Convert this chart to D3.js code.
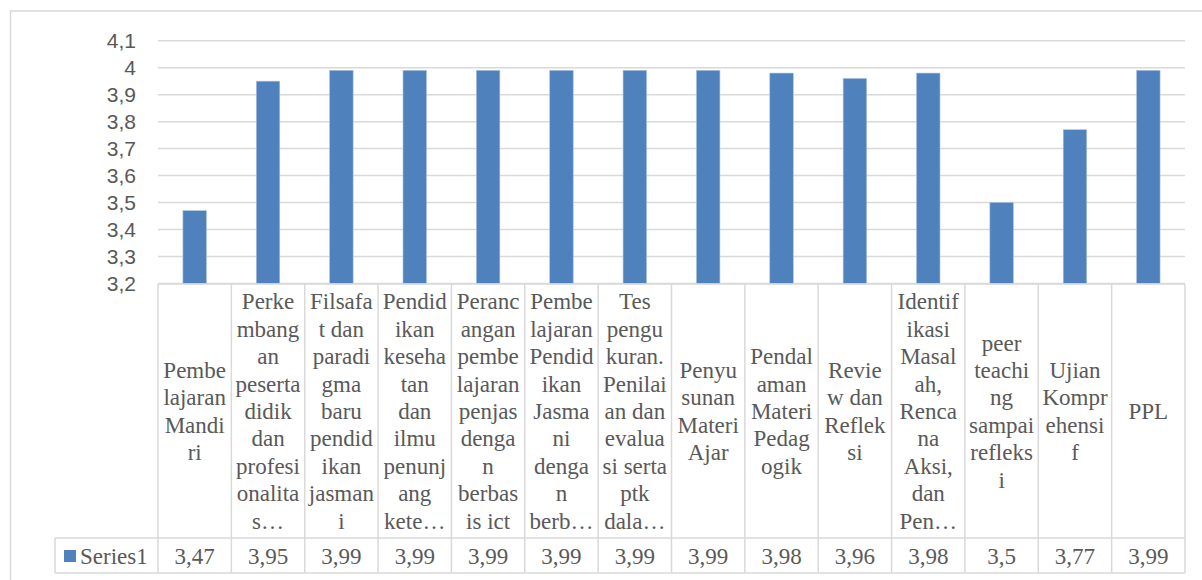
<!DOCTYPE html>
<html>
<head>
<meta charset="utf-8">
<script src="https://cdn.jsdelivr.net/npm/d3@7/dist/d3.min.js"></script>
<style>
  html, body { margin: 0; padding: 0; background: #fff; }
  svg { display: block; }
</style>
</head>
<body>
<svg id="chart" width="1202" height="580"></svg>
<script>
// ---- Data ----
const categories = [
  "Pembelajaran Mandiri",
  "Perkembangan peserta didik dan profesionalitas…",
  "Filsafat dan paradigma baru pendidikan jasmani",
  "Pendidikan kesehatan dan ilmu penunjang kete…",
  "Perancangan pembelajaran penjas dengan berbasis ict",
  "Pembelajaran Pendidikan Jasmani dengan berb…",
  "Tes pengukuran. Penilaian dan evaluasi serta ptk dala…",
  "Penyusunan Materi Ajar",
  "Pendalaman Materi Pedagogik",
  "Review dan Refleksi",
  "Identifikasi Masalah, Rencana Aksi, dan Pen…",
  "peer teaching sampai refleksi",
  "Ujian Komprehensif",
  "PPL"
];
// Wrapped lines as shown in the data table
const categoryLines = [
  ["Pembe","lajaran","Mandi","ri"],
  ["Perke","mbang","an","peserta","didik","dan","profesi","onalita","s…"],
  ["Filsafa","t dan","paradi","gma","baru","pendid","ikan","jasman","i"],
  ["Pendid","ikan","keseha","tan","dan","ilmu","penunj","ang","kete…"],
  ["Peranc","angan","pembe","lajaran","penjas","denga","n","berbas","is ict"],
  ["Pembe","lajaran","Pendid","ikan","Jasma","ni","denga","n","berb…"],
  ["Tes","pengu","kuran.","Penilai","an dan","evalua","si serta","ptk","dala…"],
  ["Penyu","sunan","Materi","Ajar"],
  ["Pendal","aman","Materi","Pedag","ogik"],
  ["Revie","w dan","Reflek","si"],
  ["Identif","ikasi","Masal","ah,","Renca","na","Aksi,","dan","Pen…"],
  ["peer","teachi","ng","sampai","refleks","i"],
  ["Ujian","Kompr","ehensi","f"],
  ["PPL"]
];
const seriesName = "Series1";
const values = [3.47, 3.95, 3.99, 3.99, 3.99, 3.99, 3.99, 3.99, 3.98, 3.96, 3.98, 3.5, 3.77, 3.99];
const yTicks = [3.2, 3.3, 3.4, 3.5, 3.6, 3.7, 3.8, 3.9, 4.0, 4.1];

// ---- Layout ----
const plotLeft = 158, plotRight = 1185;
const plotTop = 40.7, plotBottom = 283.5;
const tableTop = 284, catRowBottom = 538, valRowBottom = 573;
const legendLeft = 55;
const gridColor = "#d9d9d9";
const textColor = "#595959";
const barColor = "#4F81BD";
const fmt = v => String(+v.toFixed(2)).replace(".", ",");

const svg = d3.select("#chart");

// Outer chart border
svg.append("rect")
  .attr("x", 10.5).attr("y", 11)
  .attr("width", 1202).attr("height", 600)
  .attr("fill", "#fff").attr("stroke", gridColor).attr("stroke-width", 1.5);

const x = d3.scaleBand().domain(categories).range([plotLeft, plotRight])
  .paddingInner(0.68).paddingOuter(0.34);
const xCol = d3.scaleBand().domain(categories).range([plotLeft, plotRight]).padding(0);
const y = d3.scaleLinear().domain([3.2, 4.1]).range([plotBottom, plotTop]);

// Gridlines
svg.append("g").selectAll("line").data(yTicks).join("line")
  .attr("x1", plotLeft).attr("x2", plotRight)
  .attr("y1", d => y(d)).attr("y2", d => y(d))
  .attr("stroke", gridColor).attr("stroke-width", 1.5);

// Y axis labels
const yAxis = d3.axisLeft(y).tickValues(yTicks).tickFormat(fmt).tickSize(0).tickPadding(0);
const yg = svg.append("g").attr("transform", `translate(136,0)`).call(yAxis);
yg.select(".domain").remove();
yg.selectAll("text")
  .attr("fill", textColor)
  .style("font-family", "'Liberation Sans', Arial, sans-serif")
  .style("font-size", "21px");

// Bars
svg.append("g").selectAll("rect").data(values).join("rect")
  .attr("x", (d, i) => x(categories[i]))
  .attr("width", x.bandwidth())
  .attr("y", d => y(d))
  .attr("height", d => y(3.2) - y(d))
  .attr("fill", barColor)
  .attr("stroke", "#a9c0de").attr("stroke-width", 0.6);

// ---- Data table ----
const tg = svg.append("g");
const lineColor = gridColor;
// horizontal lines
tg.append("line").attr("x1", plotLeft).attr("x2", plotRight).attr("y1", tableTop).attr("y2", tableTop)
  .attr("stroke", lineColor).attr("stroke-width", 1.5);
tg.append("line").attr("x1", legendLeft).attr("x2", plotRight).attr("y1", catRowBottom).attr("y2", catRowBottom)
  .attr("stroke", lineColor).attr("stroke-width", 1.5);
tg.append("line").attr("x1", legendLeft).attr("x2", plotRight).attr("y1", valRowBottom).attr("y2", valRowBottom)
  .attr("stroke", lineColor).attr("stroke-width", 1.5);
// vertical lines
const colEdges = categories.map(c => xCol(c)).concat([plotRight]);
tg.selectAll("line.v").data(colEdges).join("line").attr("class", "v")
  .attr("x1", d => d).attr("x2", d => d)
  .attr("y1", tableTop).attr("y2", valRowBottom)
  .attr("stroke", lineColor).attr("stroke-width", 1.5);
tg.append("line").attr("x1", legendLeft).attr("x2", legendLeft)
  .attr("y1", catRowBottom).attr("y2", valRowBottom)
  .attr("stroke", lineColor).attr("stroke-width", 1.5);

const serif = "'Liberation Serif', 'Times New Roman', serif";
const lh = 27.4;
const catMid = (tableTop + catRowBottom) / 2;

// category labels
categories.forEach((c, i) => {
  const lines = categoryLines[i];
  const cx = xCol(c) + xCol.bandwidth() / 2;
  const t = tg.append("text")
    .attr("x", cx)
    .attr("text-anchor", "middle")
    .attr("fill", textColor)
    .style("font-family", serif)
    .style("font-size", "23px");
  lines.forEach((ln, j) => {
    t.append("tspan")
      .attr("x", cx)
      .attr("y", catMid + (j - (lines.length - 1) / 2) * lh)
      .attr("dy", "0.35em")
      .text(ln);
  });
});

// values row
const valMid = (catRowBottom + valRowBottom) / 2;
tg.selectAll("text.val").data(values).join("text").attr("class", "val")
  .attr("x", (d, i) => xCol(categories[i]) + xCol.bandwidth() / 2)
  .attr("y", valMid).attr("dy", "0.35em")
  .attr("text-anchor", "middle")
  .attr("fill", textColor)
  .style("font-family", serif)
  .style("font-size", "23px")
  .text(fmt);

// legend key in table
tg.append("rect").attr("x", 64).attr("y", 550).attr("width", 12).attr("height", 12).attr("fill", barColor);
tg.append("text").attr("x", 80).attr("y", valMid).attr("dy", "0.35em")
  .attr("fill", textColor)
  .style("font-family", serif).style("font-size", "23px")
  .text(seriesName);
</script>
</body>
</html>
